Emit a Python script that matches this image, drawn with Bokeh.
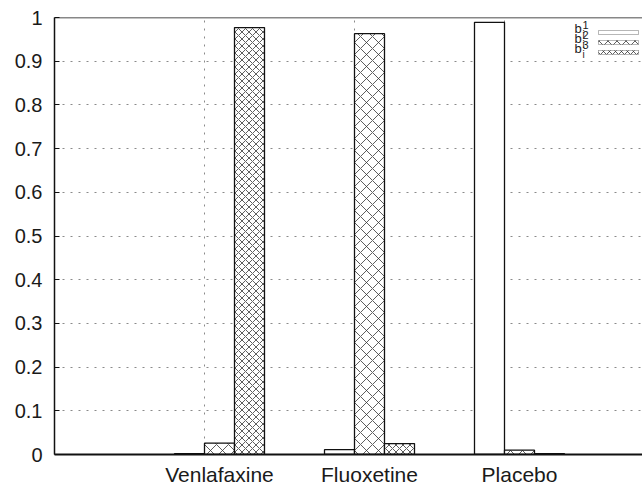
import numpy as np
from bokeh.plotting import figure
from bokeh.models import FixedTicker, Span, Label, BoxAnnotation, Range1d
from bokeh.embed import file_html
from bokeh.resources import INLINE

categories = ["Venlafaxine", "Fluoxetine", "Placebo"]
b1 = [0.002, 0.011, 0.989]
b2 = [0.026, 0.963, 0.010]
b3 = [0.977, 0.025, 0.002]
y_ticks = [0, 0.1, 0.2, 0.3, 0.4, 0.5, 0.6, 0.7, 0.8, 0.9, 1]
series_names = ["1", "2", "3"]

pos = np.arange(1, len(categories) + 1)
bw = 0.2

p = figure(width=642, height=488, x_range=Range1d(-0.1, 3.82), y_range=Range1d(0, 1),
           output_backend="svg", toolbar_location=None,
           min_border_left=54, min_border_right=0, min_border_top=17, min_border_bottom=33)
p.outline_line_color = None
p.background_fill_color = "white"

FONT = "Liberation Sans"
TXT = "#1a1a1a"

# grids
p.xgrid[0].ticker = FixedTicker(ticks=list(pos - bw / 2))
p.ygrid[0].ticker = FixedTicker(ticks=y_ticks)
for g in (p.xgrid[0], p.ygrid[0]):
    g.grid_line_color = "#8a8a8a"
    g.grid_line_dash = "2 6"
    g.grid_line_width = 1

# bars
common = dict(width=bw, line_color="#111111", line_width=1.3)
p.vbar(x=pos - bw, top=b1, fill_color="white", **common)
p.vbar(x=pos, top=b2, fill_color="white", hatch_pattern="x", hatch_scale=12,
       hatch_color="#333333", hatch_weight=0.8, **common)
p.vbar(x=pos + bw, top=b3, fill_color="white", hatch_pattern="x", hatch_scale=7,
       hatch_color="#333333", hatch_weight=0.8, **common)

# axes
xa = p.xaxis[0]
xa.ticker = FixedTicker(ticks=list(pos))
xa.major_label_overrides = {int(c): n for c, n in zip(pos, categories)}
xa.major_tick_line_color = None
xa.minor_tick_line_color = None
xa.axis_line_width = 2
xa.axis_line_color = "#111111"
xa.major_label_text_font = FONT
xa.major_label_text_font_size = "21px"
xa.major_label_text_color = TXT
xa.major_label_standoff = 2

ya = p.yaxis[0]
ya.ticker = FixedTicker(ticks=y_ticks)
ya.major_label_overrides = {0: "0", 1: "1"}
ya.major_tick_in = 5
ya.major_tick_out = 0
ya.minor_tick_line_color = None
ya.axis_line_width = 1.5
ya.axis_line_color = "#111111"
ya.major_tick_line_color = "#111111"
ya.major_label_text_font = FONT
ya.major_label_text_font_size = "20px"
ya.major_label_text_color = TXT
ya.major_label_standoff = 12

p.add_layout(Span(location=1, dimension="width", line_color="#111111", line_width=1.5))

# legend (label left, sample right)
hatches = [(None, 1), ("x", 9), ("x", 6)]
for k, (name, (hp, hs)) in enumerate(zip(series_names, hatches)):
    yb = 419 - 10 * k
    p.add_layout(BoxAnnotation(left=544, right=584, bottom=yb + 1, top=yb + 5,
                               left_units="screen", right_units="screen",
                               bottom_units="screen", top_units="screen",
                               fill_color="white", fill_alpha=1, line_color="#111111",
                               line_width=1, hatch_pattern=hp, hatch_scale=hs,
                               hatch_color="#333333", hatch_weight=0.8))
    p.add_layout(Label(x=520, y=yb, x_units="screen", y_units="screen", text="b",
                       text_font=FONT, text_font_size="13px", text_color=TXT))
    p.add_layout(Label(x=528, y=yb + 7, x_units="screen", y_units="screen", text=name,
                       text_font=FONT, text_font_size="11px", text_color=TXT))
    p.add_layout(Label(x=528, y=yb - 4, x_units="screen", y_units="screen", text="i",
                       text_font=FONT, text_font_size="10px", text_color=TXT))

open("out.html", "w").write(file_html(p, INLINE))
